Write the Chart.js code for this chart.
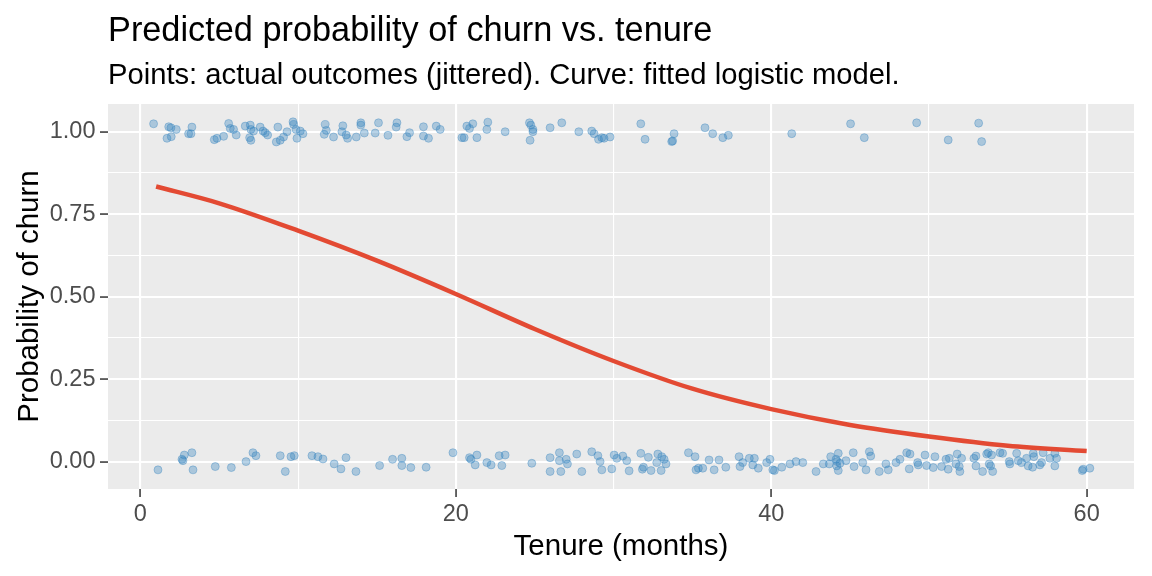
<!DOCTYPE html>
<html>
<head>
<meta charset="utf-8">
<script src="https://cdn.jsdelivr.net/npm/chart.js@4.4.1/dist/chart.umd.min.js"></script>
<style>
  html, body { margin: 0; padding: 0; background: #ffffff; }
  canvas { display: block; }
</style>
</head>
<body>
<canvas id="churnChart" width="1152" height="576"></canvas>
<script>
/** TEXT */
const chartTitle = "Predicted probability of churn vs. tenure";
const chartSubtitle = "Points: actual outcomes (jittered). Curve: fitted logistic model.";
const xAxisTitle = "Tenure (months)";
const yAxisTitle = "Probability of churn";

/** TICKS (blank label = minor grid line) */
const xTicks = [0, 10, 20, 30, 40, 50, 60];
const xTickLabels = ["0", "", "20", "", "40", "", "60"];
const yTicks = [0, 0.125, 0.25, 0.375, 0.5, 0.625, 0.75, 0.875, 1];
const yTickLabels = ["0.00", "", "0.25", "", "0.50", "", "0.75", "", "1.00"];

/** CHURNED CUSTOMERS (outcome 1, jittered) */
const churnedTenure = [0.84, 1.80, 1.94, 2.28, 1.69, 1.96, 3.27, 3.06, 3.21, 4.69, 4.86, 5.28, 5.60, 5.70, 5.91, 6.08,
  6.65, 6.97, 7.01, 7.18, 7.01, 6.93, 7.60, 7.78, 7.92, 8.07, 8.72, 8.62, 8.87, 9.08, 9.30, 9.68, 9.72, 9.87, 9.93,
  10.14, 10.31, 11.72, 11.79, 11.66, 12.25, 12.84, 12.78, 13.05, 13.14, 13.69, 13.98, 13.98, 14.20, 14.89, 15.10,
  15.70, 16.27, 16.22, 16.90, 17.07, 17.95, 17.95, 18.27, 18.76, 19.01, 20.39, 20.53, 20.70, 20.87, 21.08, 21.34,
  21.97, 22.03, 23.13, 24.67, 24.76, 24.89, 24.89, 24.71, 25.98, 26.72, 27.80, 28.62, 28.77, 29.05, 29.26, 29.40,
  29.78, 31.73, 32.00, 33.69, 33.75, 33.84, 35.80, 36.29, 36.93, 37.28, 41.30, 45.03, 45.90, 49.22, 51.22, 53.15, 53.34];
const churnedJitter = [1.024, 1.015, 1.012, 1.007, 0.980, 0.985, 1.014, 0.994, 0.994, 0.976, 0.980, 0.986, 1.025, 1.010,
  1.007, 0.990, 1.017, 1.020, 1.007, 1.002, 0.974, 0.982, 1.014, 1.002, 0.997, 0.990, 1.014, 0.969, 0.974, 0.984, 1.000,
  1.030, 1.022, 1.007, 0.980, 1.002, 0.994, 1.022, 1.004, 0.992, 0.984, 1.018, 1.000, 0.990, 0.980, 0.984, 1.027, 1.020,
  0.996, 0.996, 1.027, 0.989, 1.027, 1.014, 0.985, 0.997, 1.015, 0.987, 0.980, 1.017, 1.007, 0.982, 0.982, 1.017, 1.010,
  1.024, 0.982, 1.007, 1.029, 1.000, 1.027, 1.020, 1.007, 1.000, 0.974, 1.012, 1.027, 1.000, 1.002, 0.994, 0.977, 0.982,
  0.980, 0.984, 1.024, 0.977, 0.970, 0.972, 0.994, 1.012, 0.994, 0.982, 0.989, 0.994, 1.024, 0.982, 1.027, 0.975, 1.026, 0.970];

/** RETAINED CUSTOMERS (outcome 0, jittered) */
const stayedTenure = [1.12, 2.64, 2.79, 2.70, 3.27, 3.34, 4.75, 5.77, 6.70, 7.14, 7.33, 8.87, 9.19, 9.55, 9.76, 10.88,
  11.26, 11.58, 12.29, 12.72, 13.04, 13.67, 15.17, 15.99, 16.58, 16.58, 17.15, 18.12, 19.82, 20.87, 20.96, 21.34, 21.23,
  21.97, 22.24, 22.75, 23.13, 22.92, 24.82, 25.98, 25.98, 26.57, 26.57, 26.66, 27.00, 27.08, 27.67, 27.99, 28.62, 29.01,
  29.15, 29.26, 29.89, 30.04, 30.21, 30.59, 30.84, 30.99, 31.73, 31.90, 31.83, 32.21, 32.38, 32.74, 32.81, 33.06, 33.21,
  33.33, 33.02, 34.75, 35.17, 35.23, 35.38, 35.66, 36.06, 36.38, 36.69, 37.12, 37.96, 38.02, 38.19, 38.61, 38.93, 38.83,
  39.18, 39.71, 39.92, 40.10, 40.20, 40.67, 41.19, 41.57, 42.00, 42.84, 43.30, 43.68, 43.77, 44.11, 44.25, 44.19, 44.25,
  44.15, 44.36, 44.74, 45.20, 45.25, 45.80, 46.01, 46.22, 46.31, 46.85, 47.27, 47.42, 47.91, 48.16, 48.59, 48.80, 48.75,
  49.28, 49.32, 49.75, 49.85, 50.27, 50.38, 50.80, 51.08, 51.22, 51.29, 51.79, 51.71, 51.92, 51.96, 52.07, 52.85, 52.98,
  52.98, 53.40, 53.66, 53.76, 53.82, 53.91, 54.04, 53.97, 54.50, 54.67, 55.09, 55.13, 55.56, 55.66, 55.87, 56.19, 56.29,
  56.61, 56.65, 56.57, 57.03, 57.14, 57.24, 57.67, 57.98, 58.09, 57.98, 59.72, 59.78, 60.20];
const stayedJitter = [-0.025, 0.007, 0.020, 0.003, 0.027, -0.025, -0.015, -0.018, 0.000, 0.027, 0.018, 0.018, -0.030,
  0.015, 0.018, 0.018, 0.015, 0.008, -0.007, -0.022, 0.012, -0.030, -0.012, 0.007, 0.010, -0.012, -0.018, -0.017, 0.027,
  0.012, 0.007, 0.020, -0.010, -0.003, -0.010, 0.018, 0.020, -0.012, -0.005, 0.012, -0.030, 0.027, 0.003, -0.030, 0.007,
  -0.007, 0.023, -0.030, 0.030, 0.018, 0.000, -0.025, -0.022, 0.020, 0.010, 0.017, 0.003, -0.028, 0.025, -0.017, -0.023,
  0.013, -0.027, -0.003, 0.023, 0.015, 0.007, -0.007, -0.027, 0.027, 0.015, -0.025, -0.020, -0.020, 0.005, -0.025, 0.005,
  -0.017, 0.015, -0.015, -0.003, 0.010, 0.010, -0.010, -0.020, -0.003, 0.007, -0.025, -0.027, -0.017, -0.007, 0.000,
  -0.003, -0.030, -0.007, -0.007, 0.015, 0.007, 0.025, 0.000, -0.027, -0.013, -0.005, 0.003, 0.027, -0.015, -0.003,
  -0.025, 0.030, 0.017, -0.030, -0.007, -0.025, -0.003, 0.007, 0.027, 0.023, -0.022, -0.003, -0.010, 0.020, -0.012,
  -0.018, 0.015, -0.015, 0.007, -0.023, 0.010, 0.023, -0.007, -0.015, -0.030, 0.010, 0.010, 0.017, -0.013, -0.030, 0.023,
  0.027, -0.007, -0.013, -0.030, 0.020, 0.027, 0.025, 0.000, -0.007, 0.025, 0.003, -0.003, 0.010, -0.013, 0.025, 0.015,
  -0.017, -0.010, -0.003, 0.027, 0.010, 0.025, 0.010, -0.013, -0.027, -0.023, -0.020];

/** FITTED LOGISTIC CURVE */
const curveTenure = [1, 5, 10, 15, 20, 25, 30, 35, 40, 45, 50, 55, 60];
const curveProb = [0.834, 0.783, 0.700, 0.609, 0.508, 0.402, 0.305, 0.221, 0.159, 0.111, 0.076, 0.048, 0.032];

const fontFamily = "'Liberation Sans', Arial, sans-serif";
Chart.defaults.font.family = fontFamily;

function toPoints(xs, ys) {
  return xs.map((x, i) => ({ x: x, y: ys[i] }));
}

/** grey panel behind the grid + left-aligned title/subtitle */
const ggPanel = {
  id: "ggPanel",
  beforeDraw(chart) {
    const { ctx, chartArea } = chart;
    ctx.save();
    ctx.fillStyle = "#EBEBEB";
    ctx.fillRect(chartArea.left, chartArea.top, chartArea.right - chartArea.left, chartArea.bottom - chartArea.top);
    ctx.restore();
  },
  afterDraw(chart) {
    const { ctx, chartArea } = chart;
    ctx.save();
    ctx.fillStyle = "#000000";
    ctx.textAlign = "left";
    ctx.textBaseline = "alphabetic";
    ctx.font = "34.3px " + fontFamily;
    ctx.fillText(chartTitle, chartArea.left, 41);
    ctx.font = "29.2px " + fontFamily;
    ctx.fillText(chartSubtitle, chartArea.left, 84);
    ctx.restore();
  }
};

const pointFill = "rgba(49, 130, 189, 0.35)";

var chartOptions = {
  type: "scatter",
  data: {
    datasets: [{
      label: "Fitted",
      data: toPoints(curveTenure, curveProb),
      showLine: true,
      borderColor: "#E34A33",
      borderWidth: 4.5,
      pointRadius: 0,
      cubicInterpolationMode: "monotone",
      order: 0,
    }, {
      label: "Churned",
      data: toPoints(churnedTenure, churnedJitter),
      backgroundColor: pointFill,
      borderColor: pointFill,
      borderWidth: 1,
      pointRadius: 4,
      order: 1,
    }, {
      label: "Stayed",
      data: toPoints(stayedTenure, stayedJitter),
      backgroundColor: pointFill,
      borderColor: pointFill,
      borderWidth: 1,
      pointRadius: 4,
      order: 1,
    }],
  },
  options: {
    responsive: false,
    animation: false,
    events: [],
    layout: { padding: { top: 104, right: 18, left: 0, bottom: 0 } },
    scales: {
      x: {
        type: "linear",
        min: -2.05,
        max: 63.0,
        afterBuildTicks: (axis) => { axis.ticks = xTicks.map((v) => ({ value: v })); },
        afterFit: (scale) => { scale.height = 87; },
        border: { display: false },
        grid: {
          color: "#FFFFFF",
          lineWidth: (c) => (xTickLabels[c.index] ? 2.1 : 1.1),
          tickColor: (c) => (xTickLabels[c.index] ? "#333333" : "rgba(0,0,0,0)"),
          tickWidth: 1.5,
          tickLength: 8,
        },
        ticks: {
          callback: (value, index) => xTickLabels[index],
          color: "#4D4D4D",
          font: { size: 23.5 },
          padding: 3,
          maxRotation: 0,
          autoSkip: false,
        },
        title: {
          display: true,
          text: xAxisTitle,
          color: "#000000",
          font: { size: 29.5 },
          padding: { top: 0, bottom: 11.5 },
        },
      },
      y: {
        type: "linear",
        min: -0.083,
        max: 1.084,
        afterBuildTicks: (axis) => { axis.ticks = yTicks.map((v) => ({ value: v })); },
        afterFit: (scale) => { scale.width = 108; },
        border: { display: false },
        grid: {
          color: "#FFFFFF",
          lineWidth: (c) => (yTickLabels[c.index] ? 2.1 : 1.1),
          tickColor: (c) => (yTickLabels[c.index] ? "#333333" : "rgba(0,0,0,0)"),
          tickWidth: 1.5,
          tickLength: 8,
        },
        ticks: {
          callback: (value, index) => yTickLabels[index],
          color: "#4D4D4D",
          font: { size: 23.5 },
          padding: 4.5,
          autoSkip: false,
        },
        title: {
          display: true,
          text: yAxisTitle,
          color: "#000000",
          font: { size: 29.5 },
          padding: { top: 12.5, bottom: 0 },
        },
      },
    },
    plugins: {
      legend: { display: false },
      tooltip: { enabled: false },
      title: { display: false },
    },
  },
  plugins: [ggPanel],
};

const ctx = document.getElementById("churnChart");
var chart = new Chart(ctx, chartOptions);
</script>
</body>
</html>
